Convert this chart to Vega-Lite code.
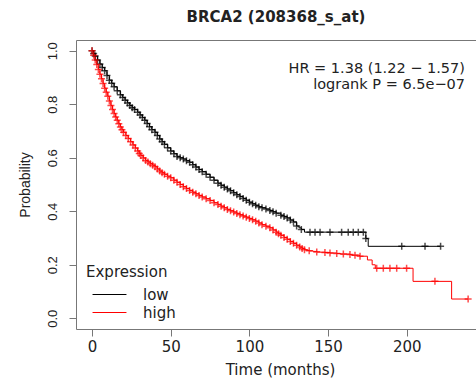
{
  "$schema": "https://vega.github.io/schema/vega-lite/v6.json",
  "width": 400,
  "height": 289,
  "autosize": "none",
  "padding": {"left": 76, "top": 40, "right": 0, "bottom": 52},
  "background": "white",
  "title": {"text": "BRCA2 (208368_s_at)", "font": "DejaVu Sans", "fontSize": 15, "fontWeight": "bold", "color": "#222222", "anchor": "middle", "baseline": "alphabetic", "offset": 3},
  "config": {
    "view": {"stroke": null},
    "axis": {"domainColor": "#777777", "tickColor": "#777777", "labelColor": "#222222", "titleColor": "#222222", "grid": false, "tickSize": 7, "domainWidth": 1, "tickWidth": 1, "titleFontWeight": "normal"}
  },
  "datasets": {
    "km": [
      {"g":"low","t":0,"s":1.0,"c":1},{"g":"low","t":1,"s":0.99,"c":1},{"g":"low","t":2,"s":0.98,"c":1},{"g":"low","t":3.5,"s":0.965,"c":1},{"g":"low","t":5,"s":0.95,"c":1},{"g":"low","t":6.5,"s":0.937,"c":1},{"g":"low","t":8,"s":0.925,"c":1},{"g":"low","t":9.5,"s":0.907,"c":1},{"g":"low","t":11,"s":0.89,"c":1},{"g":"low","t":12.5,"s":0.878,"c":1},{"g":"low","t":14,"s":0.865,"c":1},{"g":"low","t":16,"s":0.85,"c":1},{"g":"low","t":18,"s":0.835,"c":1},{"g":"low","t":19.5,"s":0.825,"c":1},{"g":"low","t":21,"s":0.815,"c":1},{"g":"low","t":22.5,"s":0.805,"c":1},{"g":"low","t":24,"s":0.795,"c":1},{"g":"low","t":25.5,"s":0.787,"c":1},{"g":"low","t":27,"s":0.78,"c":1},{"g":"low","t":29,"s":0.77,"c":1},{"g":"low","t":30.5,"s":0.76,"c":1},{"g":"low","t":32,"s":0.75,"c":1},{"g":"low","t":33.5,"s":0.74,"c":1},{"g":"low","t":35,"s":0.728,"c":1},{"g":"low","t":36.5,"s":0.716,"c":1},{"g":"low","t":38,"s":0.705,"c":1},{"g":"low","t":40,"s":0.695,"c":1},{"g":"low","t":41.5,"s":0.683,"c":1},{"g":"low","t":43,"s":0.67,"c":1},{"g":"low","t":44.5,"s":0.66,"c":1},{"g":"low","t":46,"s":0.65,"c":1},{"g":"low","t":48,"s":0.637,"c":1},{"g":"low","t":50,"s":0.625,"c":1},{"g":"low","t":52,"s":0.615,"c":1},{"g":"low","t":54,"s":0.605,"c":1},{"g":"low","t":56,"s":0.6,"c":1},{"g":"low","t":58,"s":0.595,"c":1},{"g":"low","t":60,"s":0.589,"c":1},{"g":"low","t":62,"s":0.583,"c":1},{"g":"low","t":64,"s":0.574,"c":1},{"g":"low","t":66,"s":0.565,"c":1},{"g":"low","t":68,"s":0.556,"c":1},{"g":"low","t":70,"s":0.548,"c":1},{"g":"low","t":72.5,"s":0.538,"c":1},{"g":"low","t":75,"s":0.527,"c":1},{"g":"low","t":77.5,"s":0.516,"c":1},{"g":"low","t":80,"s":0.505,"c":1},{"g":"low","t":82,"s":0.497,"c":1},{"g":"low","t":84,"s":0.49,"c":1},{"g":"low","t":86,"s":0.483,"c":1},{"g":"low","t":88,"s":0.477,"c":1},{"g":"low","t":90,"s":0.469,"c":1},{"g":"low","t":92,"s":0.462,"c":1},{"g":"low","t":94,"s":0.455,"c":1},{"g":"low","t":96,"s":0.448,"c":1},{"g":"low","t":98,"s":0.441,"c":1},{"g":"low","t":100,"s":0.434,"c":1},{"g":"low","t":102,"s":0.428,"c":1},{"g":"low","t":104,"s":0.422,"c":1},{"g":"low","t":106,"s":0.417,"c":1},{"g":"low","t":108,"s":0.413,"c":1},{"g":"low","t":110.5,"s":0.408,"c":1},{"g":"low","t":113,"s":0.403,"c":1},{"g":"low","t":115,"s":0.398,"c":1},{"g":"low","t":117,"s":0.393,"c":1},{"g":"low","t":120,"s":0.385,"c":1},{"g":"low","t":122,"s":0.38,"c":1},{"g":"low","t":124,"s":0.375,"c":1},{"g":"low","t":126,"s":0.367,"c":1},{"g":"low","t":128,"s":0.36,"c":1},{"g":"low","t":130,"s":0.345,"c":1},{"g":"low","t":131.5,"s":0.338,"c":0},{"g":"low","t":133,"s":0.332,"c":1},{"g":"low","t":135,"s":0.322,"c":0},{"g":"low","t":138.5,"s":0.322,"c":1},{"g":"low","t":141.7,"s":0.322,"c":1},{"g":"low","t":144.9,"s":0.322,"c":1},{"g":"low","t":151.2,"s":0.322,"c":1},{"g":"low","t":158.6,"s":0.322,"c":1},{"g":"low","t":162.8,"s":0.322,"c":1},{"g":"low","t":166,"s":0.322,"c":1},{"g":"low","t":169.2,"s":0.322,"c":1},{"g":"low","t":172.4,"s":0.322,"c":1},{"g":"low","t":174,"s":0.298,"c":1},{"g":"low","t":175.5,"s":0.269,"c":0},{"g":"low","t":196.8,"s":0.269,"c":1},{"g":"low","t":211.6,"s":0.269,"c":1},{"g":"low","t":221.5,"s":0.269,"c":1},
      {"g":"high","t":0,"s":1.0,"c":1},{"g":"high","t":1,"s":0.983,"c":1},{"g":"high","t":2,"s":0.965,"c":1},{"g":"high","t":3,"s":0.948,"c":1},{"g":"high","t":4,"s":0.93,"c":1},{"g":"high","t":5,"s":0.912,"c":1},{"g":"high","t":6,"s":0.895,"c":1},{"g":"high","t":7,"s":0.877,"c":1},{"g":"high","t":8,"s":0.86,"c":1},{"g":"high","t":9,"s":0.845,"c":1},{"g":"high","t":10,"s":0.83,"c":1},{"g":"high","t":11,"s":0.812,"c":1},{"g":"high","t":12,"s":0.795,"c":1},{"g":"high","t":13,"s":0.78,"c":1},{"g":"high","t":14,"s":0.765,"c":1},{"g":"high","t":15,"s":0.752,"c":1},{"g":"high","t":16,"s":0.74,"c":1},{"g":"high","t":17,"s":0.727,"c":1},{"g":"high","t":18,"s":0.715,"c":1},{"g":"high","t":19,"s":0.705,"c":1},{"g":"high","t":20,"s":0.695,"c":1},{"g":"high","t":21.5,"s":0.683,"c":1},{"g":"high","t":23,"s":0.672,"c":1},{"g":"high","t":24.5,"s":0.66,"c":1},{"g":"high","t":26,"s":0.648,"c":1},{"g":"high","t":27.5,"s":0.636,"c":1},{"g":"high","t":29,"s":0.625,"c":1},{"g":"high","t":30,"s":0.616,"c":1},{"g":"high","t":31,"s":0.608,"c":1},{"g":"high","t":32.5,"s":0.599,"c":1},{"g":"high","t":34,"s":0.59,"c":1},{"g":"high","t":35.5,"s":0.584,"c":1},{"g":"high","t":37,"s":0.578,"c":1},{"g":"high","t":38.5,"s":0.572,"c":1},{"g":"high","t":40,"s":0.566,"c":1},{"g":"high","t":41.5,"s":0.558,"c":1},{"g":"high","t":43,"s":0.55,"c":1},{"g":"high","t":44.5,"s":0.544,"c":1},{"g":"high","t":46,"s":0.538,"c":1},{"g":"high","t":48,"s":0.531,"c":1},{"g":"high","t":50,"s":0.525,"c":1},{"g":"high","t":52,"s":0.516,"c":1},{"g":"high","t":54,"s":0.508,"c":1},{"g":"high","t":56,"s":0.5,"c":1},{"g":"high","t":58,"s":0.492,"c":1},{"g":"high","t":60,"s":0.485,"c":1},{"g":"high","t":62,"s":0.478,"c":1},{"g":"high","t":64,"s":0.471,"c":1},{"g":"high","t":66,"s":0.465,"c":1},{"g":"high","t":68,"s":0.459,"c":1},{"g":"high","t":70,"s":0.453,"c":1},{"g":"high","t":72.5,"s":0.447,"c":1},{"g":"high","t":75,"s":0.44,"c":1},{"g":"high","t":77.5,"s":0.432,"c":1},{"g":"high","t":80,"s":0.425,"c":1},{"g":"high","t":82,"s":0.419,"c":1},{"g":"high","t":84,"s":0.413,"c":1},{"g":"high","t":86,"s":0.407,"c":1},{"g":"high","t":88,"s":0.402,"c":1},{"g":"high","t":90,"s":0.397,"c":1},{"g":"high","t":92,"s":0.392,"c":1},{"g":"high","t":94,"s":0.387,"c":1},{"g":"high","t":96,"s":0.382,"c":1},{"g":"high","t":98,"s":0.378,"c":1},{"g":"high","t":100,"s":0.373,"c":1},{"g":"high","t":102,"s":0.368,"c":1},{"g":"high","t":104,"s":0.363,"c":1},{"g":"high","t":106,"s":0.356,"c":1},{"g":"high","t":108,"s":0.35,"c":1},{"g":"high","t":110.5,"s":0.344,"c":1},{"g":"high","t":113,"s":0.338,"c":1},{"g":"high","t":115,"s":0.33,"c":1},{"g":"high","t":117,"s":0.322,"c":1},{"g":"high","t":118.5,"s":0.316,"c":1},{"g":"high","t":120,"s":0.31,"c":1},{"g":"high","t":122,"s":0.302,"c":1},{"g":"high","t":124,"s":0.295,"c":1},{"g":"high","t":126,"s":0.287,"c":1},{"g":"high","t":128,"s":0.28,"c":1},{"g":"high","t":130,"s":0.273,"c":1},{"g":"high","t":132,"s":0.266,"c":1},{"g":"high","t":133.5,"s":0.261,"c":1},{"g":"high","t":135,"s":0.256,"c":1},{"g":"high","t":136.5,"s":0.254,"c":0},{"g":"high","t":138,"s":0.252,"c":1},{"g":"high","t":140.5,"s":0.25,"c":0},{"g":"high","t":142.8,"s":0.248,"c":1},{"g":"high","t":145,"s":0.247,"c":0},{"g":"high","t":148,"s":0.246,"c":1},{"g":"high","t":151.2,"s":0.244,"c":1},{"g":"high","t":155.5,"s":0.242,"c":1},{"g":"high","t":158,"s":0.24,"c":0},{"g":"high","t":159.7,"s":0.24,"c":1},{"g":"high","t":163.9,"s":0.238,"c":1},{"g":"high","t":165,"s":0.236,"c":0},{"g":"high","t":167.1,"s":0.236,"c":1},{"g":"high","t":170,"s":0.232,"c":0},{"g":"high","t":170.3,"s":0.232,"c":1},{"g":"high","t":175,"s":0.218,"c":0},{"g":"high","t":178,"s":0.2,"c":0},{"g":"high","t":180,"s":0.187,"c":0},{"g":"high","t":180.9,"s":0.187,"c":1},{"g":"high","t":185.1,"s":0.187,"c":1},{"g":"high","t":189.3,"s":0.187,"c":1},{"g":"high","t":193.6,"s":0.187,"c":1},{"g":"high","t":199.9,"s":0.187,"c":1},{"g":"high","t":204,"s":0.138,"c":0},{"g":"high","t":217.9,"s":0.138,"c":1},{"g":"high","t":228.5,"s":0.072,"c":0},{"g":"high","t":239,"s":0.072,"c":1}
    ]
  },
  "layer": [
    {
      "data": {"name": "km"},
      "mark": {"type": "line", "interpolate": "step-after", "strokeWidth": 1},
      "encoding": {
        "x": {"field": "t", "type": "quantitative", "scale": {"domain": [-10.2, 244], "nice": false, "zero": false},
              "axis": {"orient": "bottom", "values": [0, 50, 100, 150, 200], "labelFont": "DejaVu Sans", "labelFontSize": 15, "labelPadding": 3, "title": "Time (months)", "titleFont": "DejaVu Sans", "titleFontSize": 15, "titlePadding": 8, "titleX": 204}},
        "y": {"field": "s", "type": "quantitative", "title": "Probability", "scale": {"domain": [-0.04, 1.04], "nice": false, "zero": false},
              "axis": {"values": [0, 0.2, 0.4, 0.6, 0.8, 1], "format": ".1f", "labelAngle": 270, "labelAlign": "center", "labelBaseline": "bottom", "labelFont": "Liberation Sans", "labelFontSize": 13, "labelPadding": 10, "titleFont": "Liberation Sans", "titleFontSize": 14, "titlePadding": 14}},
        "color": {"field": "g", "type": "nominal", "scale": {"domain": ["low", "high"], "range": ["#000000", "#ff0000"]},
                  "legend": {"orient": "none", "legendX": 10, "legendY": 225, "title": "Expression", "titleFont": "DejaVu Sans", "titleFontSize": 15, "titleFontWeight": "normal", "titleColor": "#222222", "titlePadding": 7, "labelFont": "DejaVu Sans", "labelFontSize": 15, "labelColor": "#222222", "symbolType": "M-5,0H5", "symbolSize": 46, "symbolStrokeWidth": 1, "symbolOffset": 16, "labelOffset": 26, "rowPadding": 2, "padding": 0}}
      }
    },
    {
      "data": {"name": "km"},
      "transform": [{"filter": "datum.c == 1"}],
      "mark": {"type": "point", "shape": "M0,-1V1M-1,0H1", "filled": false, "strokeWidth": 1.5, "size": 49},
      "encoding": {
        "x": {"field": "t", "type": "quantitative", "axis": {"orient": "top", "labels": false, "ticks": false, "title": null, "domain": true}},
        "y": {"field": "s", "type": "quantitative", "title": "Probability"},
        "stroke": {"field": "g", "type": "nominal", "scale": {"domain": ["low", "high"], "range": ["#000000", "#ff0000"]}, "legend": null}
      }
    },
    {
      "data": {"values": [{}]},
      "mark": {"type": "text", "align": "right", "baseline": "middle", "font": "DejaVu Sans", "fontSize": 14.5, "lineHeight": 16, "color": "#222222", "text": ["HR = 1.38 (1.22 − 1.57)", "logrank P = 6.5e−07"]},
      "encoding": {
        "x": {"datum": 237, "type": "quantitative", "axis": null},
        "y": {"datum": 0.933, "type": "quantitative", "title": "Probability"}
      }
    }
  ],
  "resolve": {"axis": {"x": "independent"}}
}
